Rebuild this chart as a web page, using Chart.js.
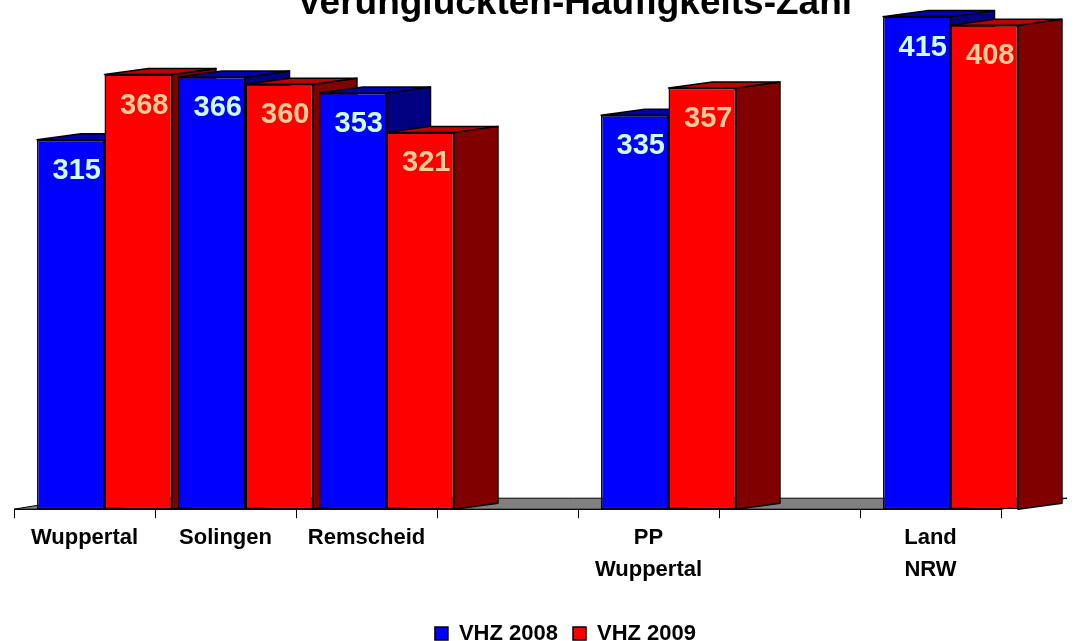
<!DOCTYPE html>
<html>
<head>
<meta charset="utf-8">
<script src="https://cdn.jsdelivr.net/npm/chart.js@4.4.1/dist/chart.umd.min.js"></script>
<style>
	html, body { margin: 0; padding: 0; background: #fff; overflow: hidden; }
	canvas { display: block; }
</style>
</head>
<body>
<canvas id="chart" width="1077" height="641"></canvas>
<script>
// данные
const titleText = 'Verunglückten-Häufigkeits-Zahl';
const categories = ['Wuppertal', 'Solingen', 'Remscheid', '', ['PP', 'Wuppertal'], '', ['Land', 'NRW']];
const seriesNames = ['VHZ 2008', 'VHZ 2009'];
const vhz2008 = [315, 366, 353, null, 335, null, 415];
const vhz2009 = [368, 360, 321, null, 357, null, 408];

const FONT = "'Liberation Sans', Arial, sans-serif";
const Y_MIN = 15, Y_MAX = 428.5;

// цвета граней: перед, верх, бок, подпись
const faces = [
	{ front: '#0000FF', top: '#0000B0', side: '#000080', label: '#CCFFFF' },
	{ front: '#FF0000', top: '#C00000', side: '#800000', label: '#FFCC99' }
];

const SHIFT = 20;   // сдвиг передних граней вправо
const DX = 44, DY = 6;         // глубина столбиков
const FLOOR_DX = 66, FLOOR_DY = 11; // глубина "пола"

// рисуем столбики в 3D сами, по порядку категорий
const bars3d = {
	id: 'bars3d',
	beforeDatasetsDraw(chart) {
		const ctx = chart.ctx;
		const area = chart.chartArea;

		// пол
		ctx.save();
		ctx.beginPath();
		ctx.moveTo(area.left, area.bottom);
		ctx.lineTo(area.right, area.bottom);
		ctx.lineTo(area.right + FLOOR_DX, area.bottom - FLOOR_DY);
		ctx.lineTo(area.left + FLOOR_DX, area.bottom - FLOOR_DY);
		ctx.closePath();
		ctx.fillStyle = '#808080';
		ctx.fill();
		ctx.lineWidth = 1;
		ctx.strokeStyle = '#000';
		ctx.stroke();
		ctx.restore();

		const metas = chart.data.datasets.map((ds, i) => chart.getDatasetMeta(i));

		for (let i = 0; i < categories.length; i++) {
			metas.forEach((meta, d) => {
				const value = chart.data.datasets[d].data[i];
				if (value === null) return;
				const el = meta.data[i];
				const { x, y, base, width } = el.getProps(['x', 'y', 'base', 'width'], true);
				const left = x - width / 2 + SHIFT;
				const right = x + width / 2 + SHIFT;
				const c = faces[d];

				ctx.save();
				ctx.lineWidth = 1.5;
				ctx.strokeStyle = '#000';
				ctx.lineJoin = 'round';

				// бок
				ctx.beginPath();
				ctx.moveTo(right, y);
				ctx.lineTo(right + DX, y - DY);
				ctx.lineTo(right + DX, base - DY);
				ctx.lineTo(right, base);
				ctx.closePath();
				ctx.fillStyle = c.side;
				ctx.fill();
				ctx.stroke();

				// верх
				ctx.beginPath();
				ctx.moveTo(left, y);
				ctx.lineTo(left + DX, y - DY);
				ctx.lineTo(right + DX, y - DY);
				ctx.lineTo(right, y);
				ctx.closePath();
				ctx.fillStyle = c.top;
				ctx.fill();
				ctx.stroke();

				// перед - сам элемент Chart.js
				ctx.translate(SHIFT, 0);
				el.draw(ctx);
				ctx.restore();
			});
		}

		// подписи значений
		ctx.save();
		ctx.font = 'bold 29px ' + FONT;
		ctx.textAlign = 'center';
		ctx.textBaseline = 'middle';
		metas.forEach((meta, d) => {
			meta.data.forEach((el, i) => {
				const value = chart.data.datasets[d].data[i];
				if (value === null) return;
				ctx.fillStyle = faces[d].label;
				ctx.fillText(String(value), el.x + SHIFT + 6, el.y + 31);
			});
		});
		ctx.restore();

		return false;
	},
	afterLayout(chart) {
		// легенда стоит правее центра, как в оригинале
		const lg = chart.legend;
		const dx = 58;
		const dy = 607.5 - lg.top;
		lg.left += dx; lg.right += dx;
		lg.top += dy; lg.bottom += dy;
	},
	afterDraw(chart) {
		// заголовок обрезан сверху
		const ctx = chart.ctx;
		ctx.save();
		ctx.font = 'bold 37px ' + FONT;
		ctx.fillStyle = '#000';
		ctx.textAlign = 'center';
		ctx.textBaseline = 'alphabetic';
		ctx.fillText(titleText, 574.5, 14);
		ctx.restore();
	}
};

const data = {
	labels: categories,
	datasets: [
		{
			label: seriesNames[0],
			data: vhz2008,
			base: Y_MIN,
			backgroundColor: faces[0].front,
			borderColor: '#000',
			borderWidth: 1.5,
			borderSkipped: false
		},
		{
			label: seriesNames[1],
			data: vhz2009,
			base: Y_MIN,
			backgroundColor: faces[1].front,
			borderColor: '#000',
			borderWidth: 1.5,
			borderSkipped: false
		}
	]
};

const config = {
	type: 'bar',
	data: data,
	options: {
		responsive: false,
		animation: false,
		devicePixelRatio: 1,
		categoryPercentage: 0.957,
		barPercentage: 1,
		layout: {
			padding: { left: 14, right: 76, top: 0, bottom: 4 }
		},
		scales: {
			y: {
				display: false,
				min: Y_MIN,
				max: Y_MAX
			},
			x: {
				offset: true,
				grid: {
					offset: true,
					drawOnChartArea: false,
					drawTicks: true,
					tickLength: 9,
					color: '#000',
					lineWidth: 1
				},
				border: { display: true, color: '#000', width: 1 },
				ticks: {
					color: '#000',
					padding: 4,
					maxRotation: 0,
					autoSkip: false,
					font: { family: FONT, size: 22, weight: 'bold', lineHeight: 1.45 }
				}
			}
		},
		plugins: {
			title: { display: false },
			tooltip: { enabled: false },
			legend: {
				display: true,
				position: 'bottom',
				labels: {
					color: '#000',
					boxWidth: 13,
					boxHeight: 13,
					padding: 15,
					font: { family: FONT, size: 22, weight: 'bold' }
				}
			}
		}
	},
	plugins: [bars3d]
};

new Chart(document.getElementById('chart').getContext('2d'), config);
</script>
</body>
</html>
